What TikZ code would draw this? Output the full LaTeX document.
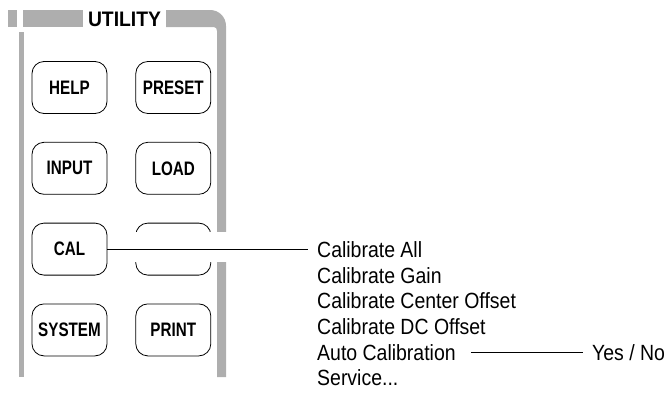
\documentclass[tikz,border=0pt]{standalone}
\usepackage{fontspec}
\setmainfont{Liberation Sans}[FakeStretch=0.885]
\newfontfamily\keyfont{Liberation Sans}[FakeStretch=0.78]
\newfontfamily\titlefont{Liberation Sans}[FakeStretch=0.92]
\usetikzlibrary{positioning}
\definecolor{panelgray}{HTML}{AEAEAE}

\begin{document}
\begin{tikzpicture}[x=1pt,y=-1pt,node distance=28pt and 28pt,
  key/.style={draw,line width=0.8pt,rounded corners=12pt,minimum width=75pt,minimum height=52pt,inner sep=0pt,font=\keyfont\bfseries\fontsize{19.5}{20}\selectfont},
  menuitem/.style={inner sep=0pt,text height=16pt,text depth=0pt,font=\fontsize{22}{26}\selectfont}]
\useasboundingbox (0,0) rectangle (666,394);
% panel frame
\fill[panelgray] (8,10) rectangle (17,27);
\fill[panelgray] (23,10) rectangle (83,27);
\fill[panelgray] (166,10) -- (210,10) .. controls (219,10) and (226,17) .. (226,26) -- (226,377) -- (217,377) -- (217,31) .. controls (217,29) and (216,27) .. (214,27) -- (166,27) -- cycle;
\fill[panelgray] (19,32) rectangle (24,377);
\node[font=\titlefont\bfseries\fontsize{21}{22}\selectfont,inner sep=0pt,text height=15pt,text depth=0pt] (title) at (124.5,18.5) {UTILITY};
% keys
\node[key] (help) at (69.5,87.5) {HELP};
\node[key,right=of help] (preset) {PRESET};
\node[key,below=of help] (input) {INPUT};
\node[key,right=of input] (load) {LOAD};
\node[key,below=of input] (cal) {CAL};
\node[key,right=of cal] (blank) {};
\node[key,below=of cal] (system) {SYSTEM};
\node[key,right=of system] (print) {PRINT};
\fill[white] (128,232) rectangle (232,262);
% CAL menu
\node[menuitem,anchor=base west] (calall) at (317,257) {Calibrate All};
\node[menuitem,anchor=base west] (calgain) at (317,283) {Calibrate Gain};
\node[menuitem,anchor=base west] (calcenter) at (317,308.5) {Calibrate Center Offset};
\node[menuitem,anchor=base west] (caldc) at (317,334) {Calibrate DC Offset};
\node[menuitem,anchor=base west] (autocal) at (317,360) {Auto Calibration};
\node[menuitem,anchor=base west] (service) at (317,385) {Service...};
\node[menuitem,right=136pt of autocal] (yesno) {Yes / No};
\draw[line width=0.8pt,shorten >=9pt] (cal) -- (cal -| calall.west);
\draw[line width=0.8pt,shorten <=15pt,shorten >=9pt] (autocal) -- (yesno);
\end{tikzpicture}
\end{document}
